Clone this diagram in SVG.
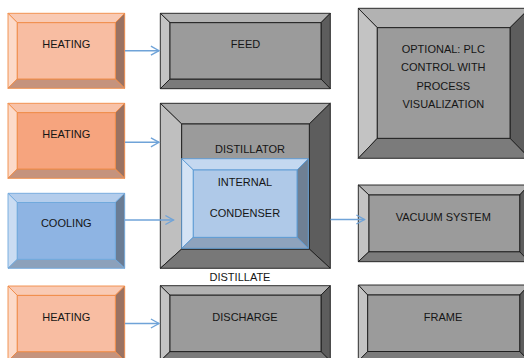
<svg xmlns="http://www.w3.org/2000/svg" width="524" height="358" viewBox="0 0 524 358">
<defs>
<style>
text{font-family:"Liberation Sans",Arial,sans-serif;font-size:11px;fill:#151515;text-anchor:middle}
.gray polygon,.gray rect{stroke:#1a1a1a;stroke-width:0.9;stroke-linejoin:miter}
.gray .t{fill:#b2b2b2}.gray .l{fill:#c3c3c3}.gray .r{fill:#5d5d5d}.gray .b{fill:#7b7b7b}.gray .f{fill:#9b9b9b}
.or polygon,.or rect{stroke:#f08a45;stroke-width:0.9}
.or .t{fill:#f9cab4}.or .l{fill:#fcdac9}.or .r{fill:#9a7262}.or .b{fill:#c5937d}.or .f{fill:#f8bda2}
.or2 .f{fill:#f6a47e}.or2 .t{fill:#f8c2a8}
.bl polygon,.bl rect{stroke:#6fa8dc;stroke-width:0.9}
.bl .t{fill:#b4cdec}.bl .l{fill:#cadcf2}.bl .r{fill:#6a7c94}.bl .b{fill:#8ca1bb}.bl .f{fill:#8eb4e3}
.cond .f{fill:#afc9e8}.cond .t{fill:#c4d8f0}.cond .l{fill:#d4e3f5}.cond .r{fill:#6f8094}.cond .b{fill:#8ea3bd}
.cond polygon,.cond rect{stroke:#5b9bd5}
.conn line{stroke:#6fa3d8;stroke-width:1.5;fill:none}
</style>
<marker id="arr" viewBox="0 0 10 10" refX="9" refY="5" markerWidth="9" markerHeight="9" markerUnits="userSpaceOnUse" orient="auto" overflow="visible">
<path d="M0,0 L9,5 L0,10" fill="none" stroke="#6fa3d8" stroke-width="1.5"/>
</marker>
</defs>
<rect width="524" height="358" fill="#ffffff"/>

<g id="heating1" class="or">
<polygon class="t" points="8,13.3 124.7,13.3 115.3,22.7 17.3,22.7"/>
<polygon class="l" points="8,13.3 17.3,22.7 17.3,79 8,88.3"/>
<polygon class="r" points="124.7,13.3 124.7,88.3 115.3,79 115.3,22.7"/>
<polygon class="b" points="8,88.3 17.3,79 115.3,79 124.7,88.3"/>
<rect class="f" x="17.3" y="22.7" width="98" height="56.3"/>
<text x="66.3" y="48">HEATING</text>
</g>

<g id="heating2" class="or or2">
<polygon class="t" points="8,103.3 124.7,103.3 115.3,112.7 17.3,112.7"/>
<polygon class="l" points="8,103.3 17.3,112.7 17.3,169 8,178.3"/>
<polygon class="r" points="124.7,103.3 124.7,178.3 115.3,169 115.3,112.7"/>
<polygon class="b" points="8,178.3 17.3,169 115.3,169 124.7,178.3"/>
<rect class="f" x="17.3" y="112.7" width="98" height="56.3"/>
<text x="66.3" y="138">HEATING</text>
</g>

<g id="cooling" class="bl">
<polygon class="t" points="8,193.3 124.7,193.3 115.3,202.5 17.3,202.5"/>
<polygon class="l" points="8,193.3 17.3,202.5 17.3,259.3 8,268.3"/>
<polygon class="r" points="124.7,193.3 124.7,268.3 115.3,259.3 115.3,202.5"/>
<polygon class="b" points="8,268.3 17.3,259.3 115.3,259.3 124.7,268.3"/>
<rect class="f" x="17.3" y="202.5" width="98" height="56.8"/>
<text x="66.3" y="227.3">COOLING</text>
</g>

<g id="heating4" class="or">
<polygon class="t" points="8,286 124.7,286 115.3,295.4 17.3,295.4"/>
<polygon class="l" points="8,286 17.3,295.4 17.3,351.7 8,361"/>
<polygon class="r" points="124.7,286 124.7,361 115.3,351.7 115.3,295.4"/>
<polygon class="b" points="8,361 17.3,351.7 115.3,351.7 124.7,361"/>
<rect class="f" x="17.3" y="295.4" width="98" height="56.3"/>
<text x="66.3" y="320.7">HEATING</text>
</g>

<g id="feed" class="gray">
<polygon class="t" points="160.3,13.3 330.3,13.3 321,22.7 170,22.7"/>
<polygon class="l" points="160.3,13.3 170,22.7 170,79 160.3,88.7"/>
<polygon class="r" points="330.3,13.3 330.3,88.7 321,79 321,22.7"/>
<polygon class="b" points="160.3,88.7 170,79 321,79 330.3,88.7"/>
<rect class="f" x="170" y="22.7" width="151" height="56.3"/>
<text x="245.5" y="48">FEED</text>
</g>

<g id="distillator" class="gray">
<polygon class="t" points="160.3,103.3 330.3,103.3 309.3,124 181.7,124" style="fill:#ababab"/>
<polygon class="l" points="160.3,103.3 181.7,124 181.7,249 160.3,268.3" style="fill:#bfbfbf"/>
<polygon class="r" points="330.3,103.3 330.3,268.3 309.3,249 309.3,124"/>
<polygon class="b" points="160.3,268.3 181.7,249 309.3,249 330.3,268.3" style="fill:#787878"/>
<rect class="f" x="181.7" y="124" width="127.6" height="125"/>
<text x="250" y="153">DISTILLATOR</text>
</g>

<g id="condenser" class="bl cond">
<polygon class="t" points="181.7,158.7 308.3,158.7 297,170 193.3,170"/>
<polygon class="l" points="181.7,158.7 193.3,170 193.3,237.3 181.7,248.3"/>
<polygon class="r" points="308.3,158.7 308.3,248.3 297,237.3 297,170"/>
<polygon class="b" points="181.7,248.3 193.3,237.3 297,237.3 308.3,248.3"/>
<rect class="f" x="193.3" y="170" width="103.7" height="67.3"/>
<text x="245" y="185.7">INTERNAL</text>
<text x="245" y="216.7">CONDENSER</text>
</g>

<g id="distillate-label">
<text x="240" y="280.7">DISTILLATE</text>
</g>

<g id="discharge" class="gray">
<polygon class="t" points="160.3,285.7 330.3,285.7 321,295.2 170,295.2"/>
<polygon class="l" points="160.3,285.7 170,295.2 170,351.6 160.3,361"/>
<polygon class="r" points="330.3,285.7 330.3,361 321,351.6 321,295.2"/>
<polygon class="b" points="160.3,361 170,351.6 321,351.6 330.3,361"/>
<rect class="f" x="170" y="295.2" width="151" height="56.4"/>
<text x="245" y="320.7">DISCHARGE</text>
</g>

<g id="optional" class="gray">
<polygon class="t" points="358.3,8.3 529.5,8.3 510,27.7 377.3,27.7"/>
<polygon class="l" points="358.3,8.3 377.3,27.7 377.3,138.3 358.3,158.3"/>
<polygon class="r" points="529.5,8.3 529.5,158.3 510,138.3 510,27.7"/>
<polygon class="b" points="358.3,158.3 377.3,138.3 510,138.3 529.5,158.3"/>
<rect class="f" x="377.3" y="27.7" width="132.7" height="110.6"/>
<text x="443.3" y="53">OPTIONAL: PLC</text>
<text x="443.3" y="70.7">CONTROL WITH</text>
<text x="443.3" y="90">PROCESS</text>
<text x="443.3" y="108.3">VISUALIZATION</text>
</g>

<g id="vacuum" class="gray">
<polygon class="t" points="358.3,185 529,185 519.7,195 369,195"/>
<polygon class="l" points="358.3,185 369,195 369,251.7 358.3,261.7"/>
<polygon class="r" points="529,185 529,261.7 519.7,251.7 519.7,195"/>
<polygon class="b" points="358.3,261.7 369,251.7 519.7,251.7 529,261.7"/>
<rect class="f" x="369" y="195" width="150.7" height="56.7"/>
<text x="443.3" y="220.7">VACUUM SYSTEM</text>
</g>

<g id="frame" class="gray">
<polygon class="t" points="358.3,285 529,285 519.7,295 367.7,295"/>
<polygon class="l" points="358.3,285 367.7,295 367.7,351.5 358.3,361"/>
<polygon class="r" points="529,285 529,361 519.7,351.5 519.7,295"/>
<polygon class="b" points="358.3,361 367.7,351.5 519.7,351.5 529,361"/>
<rect class="f" x="367.7" y="295" width="152" height="56.5"/>
<text x="443" y="320.7">FRAME</text>
</g>

<g id="connectors" class="conn">
<line x1="125" y1="50.7" x2="159" y2="50.7" marker-end="url(#arr)"/>
<line x1="125" y1="142.3" x2="159" y2="142.3" marker-end="url(#arr)"/>
<line x1="125" y1="220" x2="173.5" y2="220" marker-end="url(#arr)"/>
<line x1="125" y1="323.5" x2="159" y2="323.5" marker-end="url(#arr)"/>
<line x1="330.5" y1="219.5" x2="364.5" y2="219.5" marker-end="url(#arr)"/>
</g>
</svg>
